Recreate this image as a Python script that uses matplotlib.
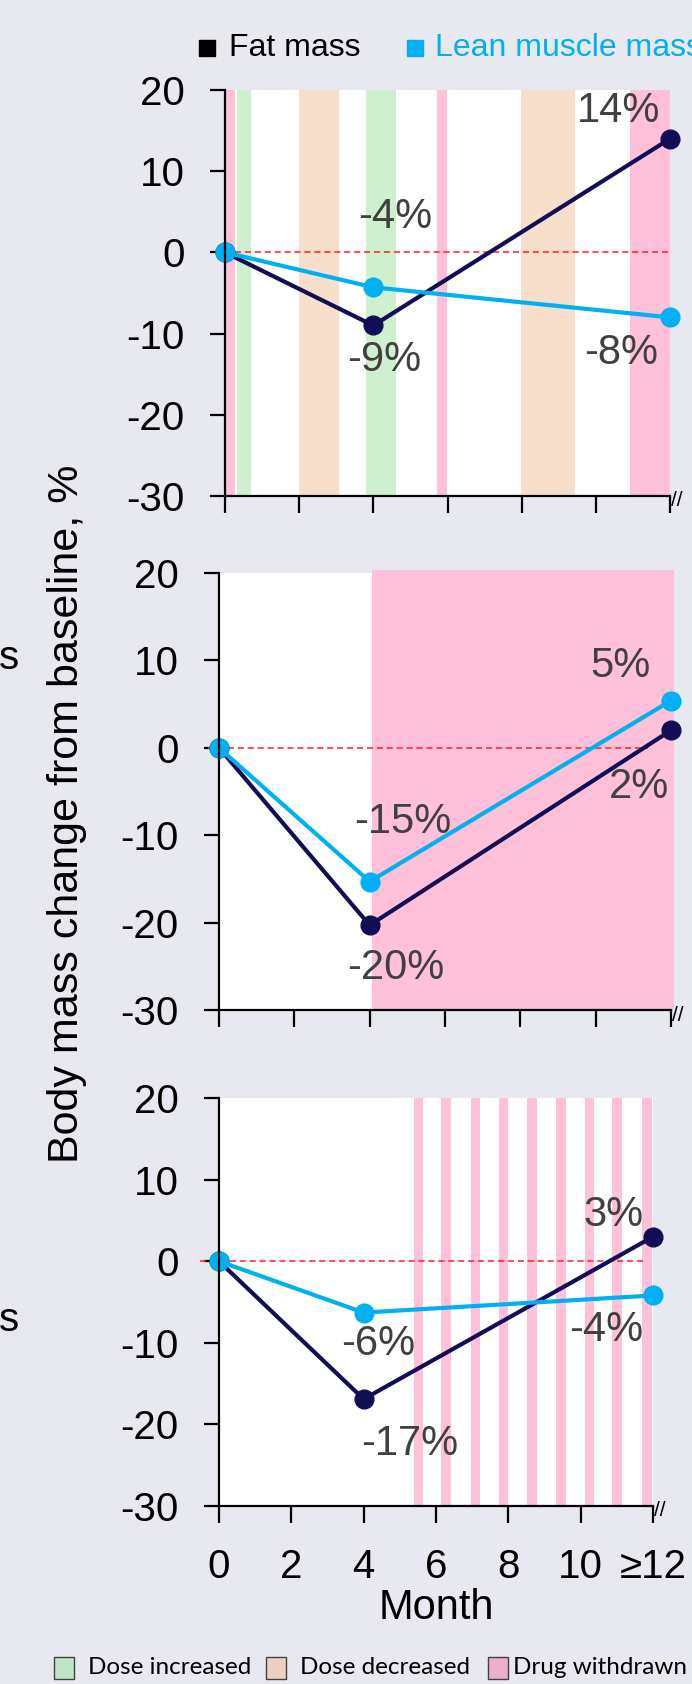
import matplotlib.pyplot as plt
from matplotlib.patches import Rectangle

W, H = 692, 1684
plt.rcParams['font.family'] = ['Liberation Sans', 'DejaVu Sans']

# data
months = [0, 4, 12]
month_ticks = [0, 2, 4, 6, 8, 10, 12]
month_labels = ['0', '2', '4', '6', '8', '10', '≥12']
y_ticks = [20, 10, 0, -10, -20, -30]

fat = [[0, -9, 14], [0, -20.3, 2], [0, -16.9, 3]]
lean = [[0, -4.3, -8], [0, -15.3, 5.4], [0, -6.3, -4.2]]

dose_up = [[(0.32, 0.70), (3.8, 4.6)], [], []]
dose_down = [[(2.0, 3.07), (7.99, 9.44)], [], []]
withdrawn = [
    [(0, 0.26), (5.71, 5.99), (10.93, 12)],
    [(4.05, 12.07)],
    [(5.39, 5.63), (6.15, 6.42), (6.96, 7.23), (7.73, 8.0), (8.52, 8.79),
     (9.32, 9.59), (10.11, 10.38), (10.87, 11.14), (11.69, 11.96)],
]

# label placement: (series, point index, dx, dy)
label_pos = [
    [('lean', 1, 0.6, 8.6), ('fat', 1, 0.29, -4.2), ('fat', 2, -1.38, 3.4), ('lean', 2, -1.32, -4.4)],
    [('lean', 1, 0.87, 6.8), ('fat', 1, 0.69, -4.9), ('lean', 2, -1.35, 3.95), ('fat', 2, -0.86, -6.5)],
    [('lean', 1, 0.4, -3.8), ('fat', 1, 1.27, -5.5), ('fat', 2, -1.1, 2.7), ('lean', 2, -1.3, -4.2)],
]

# axes boxes in pixels: left, top, right, bottom
boxes = [(225, 90, 670, 496), (219, 573, 671, 1010), (219, 1098, 653, 1506)]
zero_span = [(0, 12), (-0.3, 11.4), (-0.52, 11.8)]

bg = '#e8e8f0'
fat_c = '#120e55'
lean_c = '#00b0f0'
green = '#cff0cf'
orange = '#f8dfcc'
pink = '#ffc0da'

fig = plt.figure(figsize=(W / 100, H / 100), dpi=100, facecolor=bg)


def fx(x):
    return x / W


def fy(y):
    return 1 - y / H


for i, (l, t, r, b) in enumerate(boxes):
    ax = fig.add_axes([fx(l), fy(b), (r - l) / W, (b - t) / H])
    ax.set_facecolor('white')
    ax.set_xlim(0, 12)
    ax.set_ylim(-30, 20)

    for a, c in dose_up[i]:
        ax.axvspan(a, c, color=green, lw=0, zorder=1)
    for a, c in dose_down[i]:
        ax.axvspan(a, c, color=orange, lw=0, zorder=1)
    for a, c in withdrawn[i]:
        ax.fill_between([a, c], -30, 20.3 if i == 1 else 20, color=pink, lw=0,
                        zorder=1, clip_on=False)

    z0, z1 = zero_span[i]
    ax.plot([z0, z1], [0, 0], color='#ff2020', lw=1.1, ls=(0, (4, 2.5)),
            zorder=2, clip_on=False)

    ax.plot(months, fat[i], color=fat_c, lw=3, marker='o', ms=13.5,
            zorder=4, clip_on=False)
    ax.plot(months, lean[i], color=lean_c, lw=3, marker='o', ms=13.5,
            zorder=5, clip_on=False)

    series = {'fat': fat[i], 'lean': lean[i]}
    for name, k, dx, dy in label_pos[i]:
        v = series[name][k]
        ax.text(months[k] + dx, v + dy, f'{round(v)}%', fontsize=30,
                color='#404040', ha='center', va='center', zorder=6)

    for s in ['top', 'right']:
        ax.spines[s].set_visible(False)
    for s in ['left', 'bottom']:
        ax.spines[s].set_linewidth(1.6)
        ax.spines[s].set_zorder(7)

    ax.set_yticks(y_ticks)
    ax.set_yticklabels([str(v) for v in y_ticks])
    ax.set_xticks(month_ticks)
    if i == 2:
        ax.set_xticklabels(month_labels)
    else:
        ax.set_xticklabels([])
    ax.tick_params(axis='y', length=11, width=1.6, pad=18, labelsize=29)
    ax.tick_params(axis='x', length=12, width=1.6, pad=18, labelsize=29)

    # axis break mark
    ax.text(12.18, -30.6, '//', fontsize=15, ha='center', va='center',
            clip_on=False)

    if i == 2:
        ax.set_xlabel('Month', fontsize=30, labelpad=2)

# y label and cropped fragments
fig.text(fx(67), fy(814), 'Body mass change from baseline, %', rotation=90,
         fontsize=31, ha='center', va='center')
fig.text(fx(9), fy(658), 's', fontsize=29, ha='center', va='center')
fig.text(fx(9), fy(1320), 's', fontsize=29, ha='center', va='center')

# top legend
fig.patches.append(Rectangle((fx(199), fy(56)), 16 / W, 16 / H, color='black',
                             transform=fig.transFigure, figure=fig))
fig.text(fx(229), fy(48), 'Fat mass', fontsize=23, va='center')
fig.patches.append(Rectangle((fx(407), fy(56)), 16 / W, 16 / H, color=lean_c,
                             transform=fig.transFigure, figure=fig))
fig.text(fx(435), fy(48), 'Lean muscle mass', fontsize=23, va='center', color=lean_c)

# bottom legend
leg_items = [('Dose increased', '#bfe6c6', 54, 88),
             ('Dose decreased', '#ecd1c2', 266, 300),
             ('Drug withdrawn', '#eeaed0', 488, 513)]
for name, col, sx, tx in leg_items:
    fig.patches.append(Rectangle((fx(sx), fy(1679)), 20 / W, 22 / H, facecolor=col,
                                 edgecolor='#404040', lw=1,
                                 transform=fig.transFigure, figure=fig))
    fig.text(fx(tx), fy(1668), name, fontsize=17.5, va='center',
             family=['Lato', 'DejaVu Sans'])

fig.savefig('out.png', dpi=100, facecolor=bg)
